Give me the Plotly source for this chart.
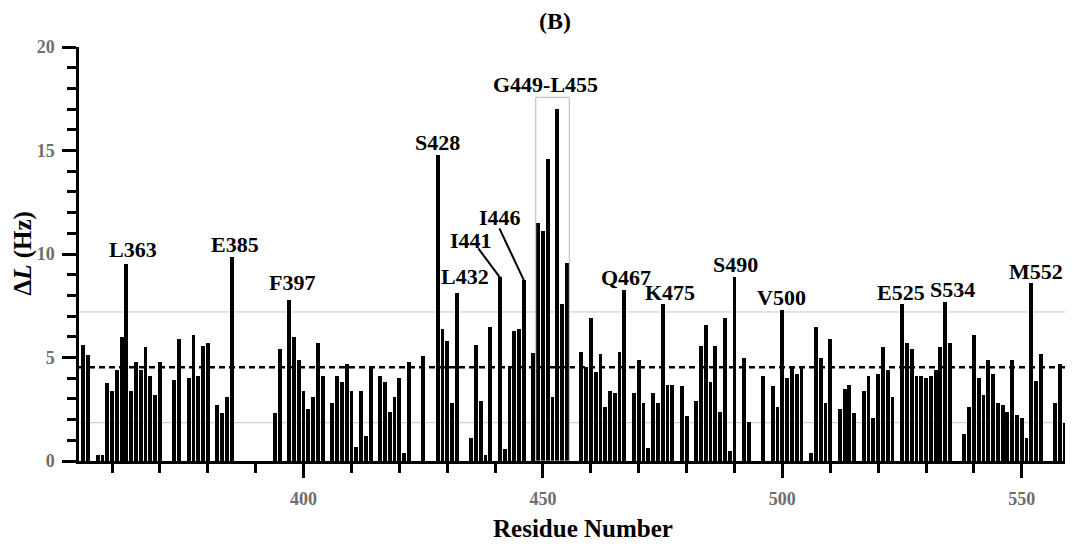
import plotly.graph_objects as go

# ---------------- data ----------------
residues = [354, 355, 357, 358, 359, 360, 361, 362, 363, 364, 365, 366, 367, 368, 369, 370,
            373, 374, 376, 377, 378, 379, 380, 382, 383, 384, 385,
            394, 395, 397, 398, 399, 400, 401, 402, 403, 404, 406, 407, 408, 409, 410,
            411, 412, 413, 414, 416, 417, 418, 419, 420, 421, 422, 425,
            428, 429, 430, 431, 432, 435, 436, 437, 438, 439, 441, 442, 443, 444, 445, 446,
            448, 449, 450, 451, 452, 453, 454, 455,
            458, 459, 460, 461, 462, 463, 464, 465, 466, 467, 469, 470, 471, 472, 473, 474,
            475, 476, 477, 479, 480, 482, 483, 484, 485, 486, 487, 488, 489, 490, 492, 493,
            496, 498, 499, 500, 501, 502, 503, 504, 506, 507, 508, 509, 510,
            512, 513, 514, 515, 517, 518, 519, 520, 521, 522, 523, 525, 526, 527, 528, 529,
            530, 531, 532, 533, 534, 535, 538, 539, 540, 541, 542, 543, 544, 545, 546, 547,
            548, 549, 550, 551, 552, 553, 554, 557, 558, 559, 560]
delta_L = [5.6, 5.12, 0.29, 0.29, 3.78, 3.4, 4.4, 6.0, 9.5, 3.4, 4.77, 4.4, 5.49, 4.12, 3.2, 4.77,
           3.9, 5.9, 4.0, 6.09, 4.12, 5.57, 5.69, 2.7, 2.3, 3.1, 9.87,
           2.3, 5.41, 7.8, 6.0, 4.88, 3.4, 2.5, 3.1, 5.69, 4.12, 2.82, 4.12, 3.8, 4.69, 3.4,
           0.69, 3.4, 1.21, 4.5, 4.12, 3.8, 2.38, 3.1, 4.0, 0.4, 4.77, 5.09,
           14.78, 6.38, 5.8, 2.79, 8.1, 1.13, 5.6, 2.9, 0.29, 6.49, 8.87, 0.6, 4.59, 6.3, 6.38, 8.74,
           5.2, 11.48, 11.1, 14.59, 3.08, 16.99, 7.58, 9.58,
           5.28, 4.56, 6.89, 4.31, 5.17, 2.59, 3.4, 3.3, 5.28, 8.26, 3.3, 4.88, 2.82, 0.61, 3.3, 2.82,
           7.58, 3.67, 3.67, 3.6, 2.19, 2.9, 5.57, 6.57, 3.8, 5.57, 2.38, 6.89, 0.5, 8.87, 4.99, 1.9,
           4.1, 3.6, 2.59, 7.29, 4.0, 4.48, 4.19, 4.6, 0.4, 6.49, 4.99, 2.79, 5.9,
           2.5, 3.48, 3.67, 2.3, 3.4, 4.1, 2.06, 4.2, 5.49, 4.4, 3.1, 7.58, 5.69, 5.41, 4.1, 4.1,
           4.0, 4.12, 4.4, 5.49, 7.7, 5.69, 1.29, 2.59, 6.09, 4.0, 3.19, 4.88, 4.19, 2.82, 2.7, 2.38,
           4.88, 2.2, 2.09, 1.1, 8.58, 3.88, 5.17, 2.79, 4.69, 1.82, 3.3]

mean_level = 4.53      # dashed line
upper_level = 7.2      # grey line (mean + SD)
lower_level = 1.85     # grey line (mean - SD)

# labelled residues placed directly above their bars
label_res = [363, 385, 397, 428, 432, 467, 475, 490, 500, 525, 534, 552]
label_txt = ["L363", "E385", "F397", "S428", "L432", "Q467", "K475", "S490", "V500", "E525", "S534", "M552"]
label_xshift = [7, 3, 2.5, 0, 8, 1.5, 7, 1, -0.5, -1, 7, 5]
label_yshift = [0.5, -2.3, 2.3, -2.4, 2.5, -2.4, -3.3, -1.7, -2.3, -3.3, -2.4, -2.3]

# labels with leader lines
leader_res = [441, 446]
leader_txt = ["I441", "I446"]
leader_text_dx = [-6.0, -4.9]
leader_text_dy = [1.78, 3.02]
leader_start_dx = [-4.5, -5.1]
leader_start_dy = [1.40, 2.50]

box_from, box_to = 449, 455
box_label = "G449-L455"

tick_vals = [400, 450, 500, 550]
x_range = [353.1, 560.7]
y_range = [0, 20]

# ---------------- styling ----------------
SERIF = "Liberation Serif"
W, H = 1073, 546
OFF = 8                       # default page (body) margin of the html page
PL, PR, PT, PB = 78.5, 1073, 47, 461   # wanted plot area in window pixels
ml, mt = PL - OFF, PT - OFF
mr = W - (PR - OFF)
mb = H - (PB - OFF)
pw, ph = (PR - OFF) - ml, (PB - OFF) - mt

val = dict(zip(residues, delta_L))

fig = go.Figure()
fig.add_trace(go.Bar(x=residues, y=delta_L, width=0.8,
                     marker=dict(color="black", line=dict(width=0)),
                     showlegend=False, hoverinfo="x+y"))

shapes = []
for lvl in (upper_level, lower_level):
    shapes.append(dict(type="line", xref="paper", x0=0, x1=1, yref="y", y0=lvl, y1=lvl,
                       line=dict(color="#c8c8c8", width=1), layer="below"))
shapes.append(dict(type="line", xref="paper", x0=0, x1=1, yref="y", y0=mean_level, y1=mean_level,
                   line=dict(color="black", width=2.5, dash="6px,4px"), layer="above"))
box_top = max(val[r] for r in range(box_from, box_to + 1) if r in val) + 0.58
shapes.append(dict(type="rect", xref="x", yref="y", x0=box_from - 0.5, x1=box_to + 0.5,
                   y0=0, y1=box_top, line=dict(color="#b4b4b4", width=1), fillcolor="rgba(0,0,0,0)"))
for r, sdx, sdy in zip(leader_res, leader_start_dx, leader_start_dy):
    shapes.append(dict(type="line", xref="x", yref="y", x0=r + sdx, y0=val[r] + sdy, x1=r, y1=val[r],
                       line=dict(color="black", width=2)))

lab_font = dict(family=SERIF, size=22, color="black", weight="bold")
annotations = []
for r, t, xs, ys in zip(label_res, label_txt, label_xshift, label_yshift):
    annotations.append(dict(x=r, y=val[r], text=t, showarrow=False, xanchor="center",
                            yanchor="bottom", xshift=xs, yshift=ys, font=lab_font))
for r, t, tdx, tdy in zip(leader_res, leader_txt, leader_text_dx, leader_text_dy):
    annotations.append(dict(x=r + tdx, y=val[r] + tdy, text=t, showarrow=False, xanchor="center",
                            yanchor="middle", font=lab_font))
annotations.append(dict(x=(box_from + box_to) / 2, y=box_top, text=box_label, showarrow=False,
                        xanchor="center", yanchor="bottom", xshift=-7, yshift=-1.5, font=lab_font))

# axis titles
title_font = dict(family=SERIF, size=25, color="black", weight="bold")
annotations.append(dict(xref="paper", yref="paper", x=(583 - PL) / pw, y=-(528 - PB) / ph,
                        text="Residue Number", showarrow=False, xanchor="center", yanchor="middle",
                        font=title_font))
annotations.append(dict(xref="paper", yref="paper", x=(22 - PL) / pw, y=0.5, text="Δ<i>L</i> (Hz)",
                        textangle=-90, showarrow=False, xanchor="center", yanchor="middle",
                        font=title_font))
# panel title
annotations.append(dict(xref="paper", yref="paper", x=(555 - PL) / pw, y=(PB - 21.5) / ph,
                        text="(B)", showarrow=False, xanchor="center", yanchor="middle",
                        font=dict(family=SERIF, size=24, color="black", weight="bold")))

tick_font = dict(family=SERIF, size=18, color="#6e6e6e", weight="bold")
fig.update_layout(
    width=W, height=H,
    margin=dict(l=ml, r=mr, t=mt, b=mb, autoexpand=False),
    plot_bgcolor="white", paper_bgcolor="white",
    bargap=0,
    shapes=shapes, annotations=annotations,
    xaxis=dict(range=x_range, tickvals=tick_vals, showgrid=False, zeroline=False, automargin=False,
               showline=True, linecolor="black", linewidth=2.5,
               ticks="outside", ticklen=14, tickwidth=2.5, tickcolor="black",
               minor=dict(dtick=10, tick0=0, ticks="outside", ticklen=9, tickwidth=2.5,
                          tickcolor="black", showgrid=False),
               tickfont=tick_font, ticklabelstandoff=6),
    yaxis=dict(range=y_range, dtick=5, tick0=0, showgrid=False, zeroline=False, automargin=False,
               showline=True, linecolor="black", linewidth=2.5,
               ticks="outside", ticklen=14, tickwidth=2.5, tickcolor="black",
               minor=dict(dtick=1, ticks="outside", ticklen=9, tickwidth=2.5,
                          tickcolor="black", showgrid=False),
               tickfont=tick_font, ticklabelstandoff=4),
)

fig.write_html("out.html")
